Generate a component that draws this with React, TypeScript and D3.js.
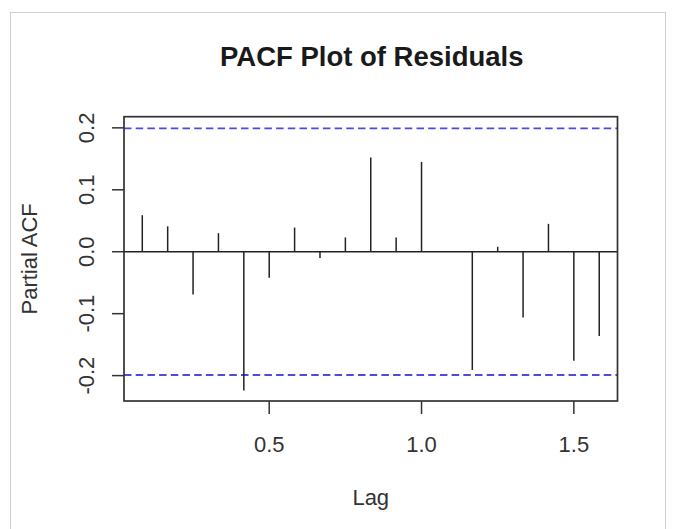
import React from "react";
import * as d3 from "d3";

const lags: number[] = [1, 2, 3, 4, 5, 6, 7, 8, 9, 10, 11, 12, 13, 14, 15, 16, 17, 18, 19].map((k) => k / 12);
const pacfValues: number[] = [0.059, 0.041, -0.069, 0.030, -0.224, -0.042, 0.039, -0.010, 0.023, 0.152, 0.023, 0.145, 0.001, -0.191, 0.008, -0.106, 0.045, -0.176, -0.136];
const xTicks: number[] = [0.5, 1.0, 1.5];
const yTicks: number[] = [-0.2, -0.1, 0.0, 0.1, 0.2];
const ciLimit = 0.199;
const titleText = "PACF Plot of Residuals";
const xLabel = "Lag";
const yLabel = "Partial ACF";

const W = 678;
const H = 529;
const left = 124;
const right = 617.5;
const top = 116.7;
const bottom = 401;
const FONT = "'Liberation Sans', Arial, sans-serif";

export default function App() {
  const x = d3.scaleLinear().domain([0.0233, 1.6433]).range([left, right]);
  const y = d3.scaleLinear().domain([-0.241, 0.218]).range([bottom, top]);
  const y0 = y(0);
  const cx = (left + right) / 2;
  const cy = (top + bottom) / 2;

  return (
    <svg
      width={W}
      height={H}
      style={{ position: "absolute", left: 0, top: 0, background: "#fff" }}
      fontFamily={FONT}
    >
      <rect x={0} y={0} width={W} height={H} fill="#fff" />
      <rect x={10.5} y={12.5} width={655} height={600} fill="none" stroke="#cfcfcf" strokeWidth={1} />

      <text x={cx + 1} y={66} textAnchor="middle" fontSize={27.5} fontWeight="bold" fill="#1a1a1a">
        {titleText}
      </text>

      {/* confidence limits */}
      {[ciLimit, -ciLimit].map((c, i) => (
        <line
          key={"ci" + i}
          x1={left}
          x2={right}
          y1={y(c)}
          y2={y(c)}
          stroke="#4b4be0"
          strokeWidth={1.8}
          strokeDasharray="7.5,4.2"
        />
      ))}

      {/* zero line */}
      <line x1={left} x2={right} y1={y0} y2={y0} stroke="#222" strokeWidth={1.6} />

      {/* spikes */}
      {lags.map((l, i) => (
        <line
          key={"s" + i}
          x1={x(l)}
          x2={x(l)}
          y1={y0}
          y2={y(pacfValues[i])}
          stroke="#222"
          strokeWidth={1.5}
        />
      ))}

      {/* plot box */}
      <rect x={left} y={top} width={right - left} height={bottom - top} fill="none" stroke="#333" strokeWidth={1.7} />

      {/* x axis */}
      {xTicks.map((t) => (
        <g key={"xt" + t}>
          <line x1={x(t)} x2={x(t)} y1={bottom} y2={bottom + 13} stroke="#333" strokeWidth={1.5} />
          <text x={x(t)} y={452} textAnchor="middle" fontSize={22} fill="#333">
            {t.toFixed(1)}
          </text>
        </g>
      ))}
      <text x={cx} y={505} textAnchor="middle" fontSize={22} fill="#333">
        {xLabel}
      </text>

      {/* y axis */}
      {yTicks.map((t) => (
        <g key={"yt" + t}>
          <line x1={left - 12} x2={left} y1={y(t)} y2={y(t)} stroke="#333" strokeWidth={1.5} />
          <text
            transform={`translate(93.5,${y(t)}) rotate(-90)`}
            textAnchor="middle"
            fontSize={22}
            fill="#333"
          >
            {t.toFixed(1)}
          </text>
        </g>
      ))}
      <text transform={`translate(36.5,${cy}) rotate(-90)`} textAnchor="middle" fontSize={22} fill="#333">
        {yLabel}
      </text>
    </svg>
  );
}
